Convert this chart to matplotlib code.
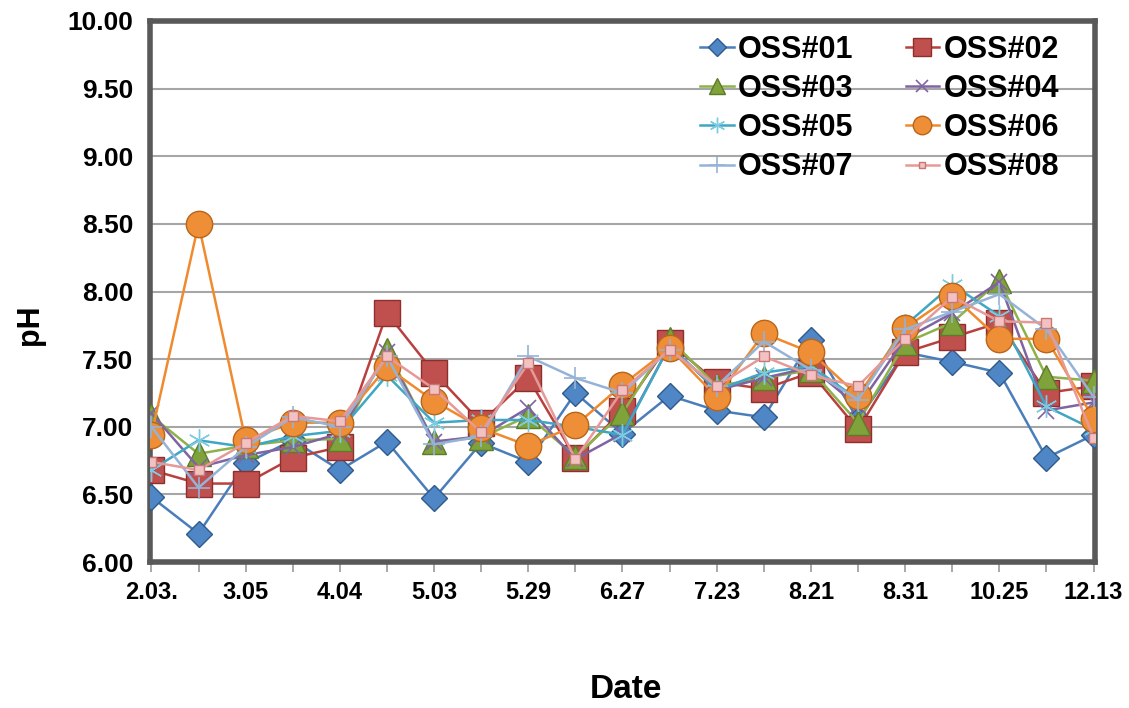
import matplotlib
matplotlib.use("Agg")
import matplotlib.pyplot as plt
import numpy as np

plt.rcParams['font.family'] = ['Liberation Sans', 'DejaVu Sans']

# sampling dates (every other one is labelled on the axis)
dates = ["2.03.", "", "3.05", "", "4.04", "", "5.03", "", "5.29", "", "6.27",
         "", "7.23", "", "8.21", "", "8.31", "", "10.25", "", "12.13"]

oss01 = [6.48, 6.21, 6.73, 6.90, 6.68, 6.89, 6.47, 6.88, 6.74, 7.25, 6.95,
         7.23, 7.12, 7.07, 7.64, 7.05, 7.55, 7.48, 7.40, 6.77, 6.94]
oss02 = [6.68, 6.58, 6.58, 6.77, 6.85, 7.84, 7.40, 7.03, 7.36, 6.77, 7.12,
         7.62, 7.33, 7.28, 7.40, 6.98, 7.55, 7.66, 7.77, 7.25, 7.30]
oss03 = [7.08, 6.80, 6.86, 6.90, 6.91, 7.57, 6.89, 6.92, 7.08, 6.78, 7.10,
         7.65, 7.30, 7.36, 7.42, 7.03, 7.62, 7.77, 8.08, 7.37, 7.34]
oss04 = [7.10, 6.70, 6.79, 6.85, 6.95, 7.55, 6.89, 6.93, 7.14, 6.76, 6.95,
         7.60, 7.27, 7.36, 7.44, 7.15, 7.65, 7.84, 8.07, 7.12, 7.18]
oss05 = [6.68, 6.90, 6.85, 6.93, 6.97, 7.38, 7.03, 7.05, 7.05, 7.00, 6.94,
         7.60, 7.27, 7.40, 7.45, 7.20, 7.75, 8.05, 7.82, 7.15, 6.98]
oss06 = [6.94, 8.50, 6.90, 7.03, 7.03, 7.44, 7.19, 6.99, 6.86, 7.01, 7.31,
         7.58, 7.22, 7.69, 7.55, 7.23, 7.73, 7.97, 7.65, 7.65, 7.06]
oss07 = [7.00, 6.55, 6.85, 7.07, 7.00, 7.52, 6.87, 6.93, 7.52, 7.36, 7.25,
         7.57, 7.30, 7.63, 7.42, 7.20, 7.72, 7.85, 7.98, 7.72, 7.22]
oss08 = [6.74, 6.68, 6.88, 7.08, 7.04, 7.52, 7.28, 6.96, 7.47, 6.76, 7.27,
         7.57, 7.30, 7.52, 7.38, 7.30, 7.65, 7.96, 7.78, 7.77, 6.92]

series = [
    ("OSS#01", oss01, dict(color="#4A7EBB", marker="D", ms=13, mfc="#4F86C6", mec="#2F5A8C")),
    ("OSS#02", oss02, dict(color="#B8413F", marker="s", ms=19, mfc="#C0504D", mec="#8C2F2D")),
    ("OSS#03", oss03, dict(color="#8DB249", marker="^", ms=17, mfc="#7FA23A", mec="#5E7C27")),
    ("OSS#04", oss04, dict(color="#8064A2", marker="x", ms=12, mew=1.2)),
    ("OSS#05", oss05, dict(color="#3FA7C4", marker=(6, 2, 0), ms=16, mew=1.0, mec="#7CCBE0")),
    ("OSS#06", oss06, dict(color="#F08A2E", marker="o", ms=19, mfc="#EE8E36", mec="#B9651A")),
    ("OSS#07", oss07, dict(color="#95B3D7", marker="+", ms=16, mew=1.2)),
    ("OSS#08", oss08, dict(color="#E69A98", marker="s", ms=7, mfc="#F1C2C1", mec="#C97674")),
]

fig = plt.figure(figsize=(11.29, 7.08), dpi=100)
ax = fig.add_axes([150 / 1129, 1 - 562 / 708, 945 / 1129, 541 / 708])

x = np.arange(len(dates))
lines = []
for name, vals, st in series:
    ln, = ax.plot(x, vals, label=name, lw=1.8, zorder=3, **st)
    lines.append(ln)

ax.set_xlim(-0.03, len(dates) - 1 + 0.03)
ax.set_ylim(6.0, 10.0)
ax.set_yticks(np.arange(6.0, 10.01, 0.5))
ax.set_yticklabels([f"{v:.2f}" for v in np.arange(6.0, 10.01, 0.5)],
                   fontsize=19, fontweight="bold")
ax.set_xticks(x)
ax.set_xticklabels(dates, fontsize=17, fontweight="bold")
ax.tick_params(axis="y", length=0, pad=12)
ax.tick_params(axis="x", length=7, width=1.2, color="#999999", pad=7, direction="out")

ax.grid(axis="y", color="#A6A6A6", lw=1.5, zorder=0)
for sp in ax.spines.values():
    sp.set_color("#595959")
    sp.set_linewidth(4)

fig.text(30 / 1129, 1 - 325 / 708, "pH", rotation=90, ha="center", va="center",
         fontsize=22, fontweight="bold")
fig.text(626 / 1129, 1 - 690 / 708, "Date", ha="center", va="center",
         fontsize=24, fontweight="bold")

# two-column legend filled row by row
order = [0, 2, 4, 6, 1, 3, 5, 7]
leg = ax.legend([lines[i] for i in order], [series[i][0] for i in order],
                ncol=2, loc="upper right", bbox_to_anchor=(0.985, 1.014),
                frameon=False, fontsize=22, markerscale=0.7,
                handlelength=1.1, handletextpad=0.15, columnspacing=1.7,
                labelspacing=0.3, borderaxespad=0.3)
for t in leg.get_texts():
    t.set_fontweight("bold")

fig.savefig("out.png", dpi=100, facecolor="white")
